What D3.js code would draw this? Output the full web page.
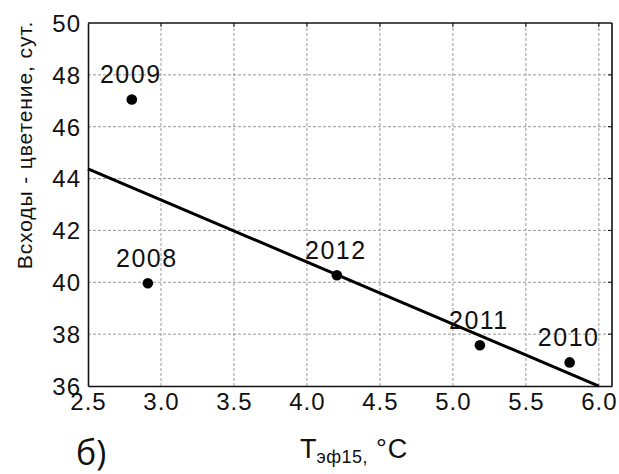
<!DOCTYPE html>
<html>
<head>
<meta charset="utf-8">
<script src="https://cdn.jsdelivr.net/npm/d3@7/dist/d3.min.js"></script>
<style>
  body { margin: 0; background: #fff; }
  svg text { font-family: "Liberation Sans", Arial, sans-serif; fill: #111; }
</style>
</head>
<body>
<svg id="chart" width="619" height="474"></svg>
<script>
// data
const years = ["2009", "2008", "2012", "2011", "2010"];
const temps = [2.8, 2.91, 4.205, 5.185, 5.8];
const days = [47.05, 39.96, 40.27, 37.57, 36.91];
const xTicks = [2.5, 3.0, 3.5, 4.0, 4.5, 5.0, 5.5, 6.0];
const yTicks = [36, 38, 40, 42, 44, 46, 48, 50];

const margin = {top: 23, left: 88, right: 7, bottom: 88};
const W = 619, H = 474;

const svg = d3.select("#chart");

const x = d3.scaleLinear().domain([2.5, 6.09]).range([margin.left, W - margin.right]);
const y = d3.scaleLinear().domain([36, 50]).range([H - margin.bottom, margin.top]);

// grid
svg.append("g")
  .selectAll("line")
  .data(xTicks.slice(1))
  .enter().append("line")
  .attr("x1", d => x(d)).attr("x2", d => x(d))
  .attr("y1", y(50)).attr("y2", y(36))
  .attr("stroke", "#999").attr("stroke-width", 1).attr("stroke-dasharray", "3,2");

svg.append("g")
  .selectAll("line")
  .data(yTicks.slice(1, -1))
  .enter().append("line")
  .attr("x1", x.range()[0]).attr("x2", x.range()[1])
  .attr("y1", d => y(d)).attr("y2", d => y(d))
  .attr("stroke", "#999").attr("stroke-width", 1).attr("stroke-dasharray", "3,2");

// axes
const yAxis = svg.append("g")
  .attr("transform", `translate(${margin.left},0)`)
  .call(d3.axisLeft(y).tickValues(yTicks).tickSize(0).tickPadding(7).tickFormat(d3.format("d")));
const xAxis = svg.append("g")
  .attr("transform", `translate(0,${y(36)})`)
  .call(d3.axisBottom(x).tickValues(xTicks).tickSize(0).tickPadding(7).tickFormat(d3.format(".1f")));

[yAxis, xAxis].forEach(a => {
  a.select(".domain").attr("stroke", "#111").attr("stroke-width", 1.6);
  a.selectAll("text").style("font-size", "24px").style("letter-spacing", "1px").attr("fill", "#111");
});
yAxis.selectAll("text").attr("dy", "0.35em");

// top and right borders with small inward ticks
svg.append("line")
  .attr("x1", x.range()[0]).attr("x2", x.range()[1])
  .attr("y1", y(50)).attr("y2", y(50))
  .attr("stroke", "#111").attr("stroke-width", 1.6);
svg.append("line")
  .attr("x1", x.range()[1]).attr("x2", x.range()[1])
  .attr("y1", y(50)).attr("y2", y(36))
  .attr("stroke", "#111").attr("stroke-width", 1.6);
svg.append("g").selectAll("line").data(xTicks.slice(1)).enter().append("line")
  .attr("x1", d => x(d)).attr("x2", d => x(d))
  .attr("y1", y(50)).attr("y2", y(50) + 4)
  .attr("stroke", "#111");
svg.append("g").selectAll("line").data(yTicks.slice(1, -1)).enter().append("line")
  .attr("x1", x.range()[1] - 4).attr("x2", x.range()[1])
  .attr("y1", d => y(d)).attr("y2", d => y(d))
  .attr("stroke", "#111");

// least squares line through the points
const mx = d3.mean(temps), my = d3.mean(days);
const slope = d3.sum(temps, (t, i) => (t - mx) * (days[i] - my)) / d3.sum(temps, t => (t - mx) * (t - mx));
const icpt = my - slope * mx;
const fitX = [2.5, 6.0];
svg.append("path")
  .attr("d", d3.line().x(d => x(d)).y(d => y(icpt + slope * d))(fitX))
  .attr("fill", "none").attr("stroke", "#000").attr("stroke-width", 3);

// points
svg.append("g").selectAll("circle").data(temps).enter().append("circle")
  .attr("cx", d => x(d)).attr("cy", (d, i) => y(days[i]))
  .attr("r", 5.3).attr("fill", "#000");

svg.append("g").selectAll("text").data(years).enter().append("text")
  .attr("x", (d, i) => x(temps[i]) - 1)
  .attr("y", (d, i) => y(days[i]) - 16)
  .attr("text-anchor", "middle")
  .style("font-size", "25px").style("letter-spacing", "1.5px")
  .text(d => d);

// axis titles
svg.append("text")
  .attr("transform", "translate(32,145) rotate(-90)")
  .attr("text-anchor", "middle")
  .style("font-size", "21px").style("letter-spacing", "0.9px")
  .text("Всходы - цветение, сут.");

const xt = svg.append("text")
  .attr("x", 300).attr("y", 458)
  .style("font-size", "27px");
xt.append("tspan").text("Т");
xt.append("tspan").attr("dy", 5).style("font-size", "18px").style("letter-spacing", "0.5px").text("эф15,");
xt.append("tspan").attr("dy", -5).attr("dx", 8).style("font-size", "27px").style("letter-spacing", "1px").text("°C");

svg.append("text")
  .attr("x", 76).attr("y", 465)
  .style("font-family", "'Open Sans', 'Noto Sans', sans-serif")
  .style("font-size", "34px")
  .text("б)");
</script>
</body>
</html>
